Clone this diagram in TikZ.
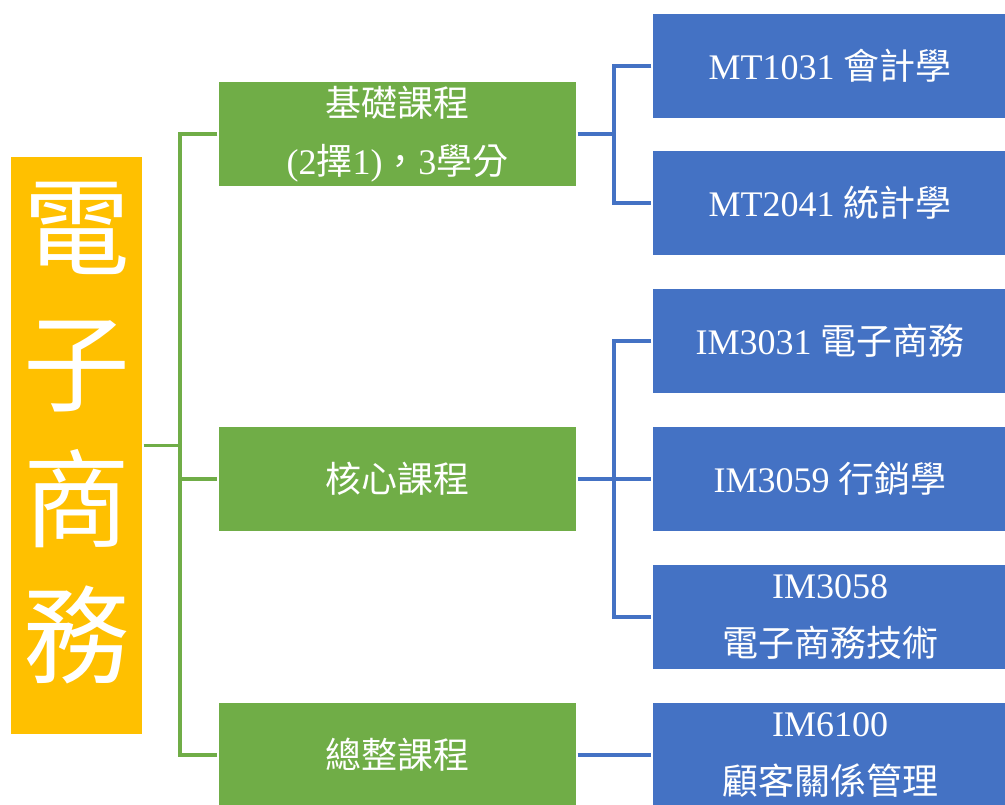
\documentclass[tikz,border=0pt]{standalone}
\usepackage{fontspec}
\setmainfont{Liberation Serif}
\newfontfamily\cjk{Noto Sans CJK TC}
\newcommand{\zh}[1]{{\cjk #1}}
\newcommand{\lblfont}{\fontsize{27}{43}\selectfont}
\newcommand{\bigfont}{\fontsize{80}{102}\selectfont}
\definecolor{orgc}{HTML}{FFC000}
\definecolor{grnc}{HTML}{70AD47}
\definecolor{bluc}{HTML}{4472C4}
\tikzset{
  orgbox/.style={fill=orgc, draw=white, line width=0.8pt, minimum width=99.75pt, minimum height=434.25pt, inner sep=0pt},
  orgtext/.style={text=white, font=\bigfont, align=center, inner sep=0pt},
  grnbox/.style={fill=grnc, draw=white, line width=0.8pt, minimum width=269.25pt, minimum height=79.5pt, inner sep=0pt, text=white, font=\lblfont, align=center},
  blubox/.style={fill=bluc, draw=white, line width=0.8pt, minimum width=267pt, minimum height=79.5pt, inner sep=0pt, text=white, font=\lblfont, align=center},
  gline/.style={draw=grnc, line width=2.5pt},
  bline/.style={draw=bluc, line width=2.5pt}
}
\begin{document}
\begin{tikzpicture}[x=0.75pt,y=-0.75pt]
\useasboundingbox (0,0) rectangle (1005,805);
\fill[white] (0,0) rectangle (1005,805);

\node[orgbox] (org) at (76.5,445.5) {};
\node[orgtext] (orgtxt) at (77,433.5) {\zh{電}\\\zh{子}\\\zh{商}\\\zh{務}};

\node[grnbox] (g1) at (397.5,134) {\zh{基礎課程}\\(2\zh{擇}1)\zh{，}3\zh{學分}};
\node[grnbox] (g2) at (397.5,479) {\zh{核心課程}};
\node[grnbox] (g3) at (397.5,755) {\zh{總整課程}};

\node[blubox] (b1) at (830,66) {MT1031 \zh{會計學}};
\node[blubox] (b2) at (830,203) {MT2041 \zh{統計學}};
\node[blubox] (b3) at (830,341) {IM3031 \zh{電子商務}};
\node[blubox] (b4) at (830,479) {IM3059 \zh{行銷學}};
\node[blubox] (b5) at (830,617) {IM3058\\\zh{電子商務技術}};
\node[blubox] (b6) at (830,755) {IM6100\\\zh{顧客關係管理}};

\coordinate (gj) at (180,445.5);
\draw[gline] (org.east) -- (gj);
\draw[gline] (g1.west) -| (gj) |- (g3.west);
\draw[gline] (gj |- g2.west) -- (g2.west);

\coordinate (bj1) at (614,134);
\draw[bline] (g1.east) -- (bj1);
\draw[bline] (b1.west) -| (bj1) |- (b2.west);

\coordinate (bj2) at (614,479);
\draw[bline] (g2.east) -- (b4.west);
\draw[bline] (b3.west) -| (bj2) |- (b5.west);

\draw[bline] (g3.east) -- (b6.west);
\end{tikzpicture}
\end{document}
